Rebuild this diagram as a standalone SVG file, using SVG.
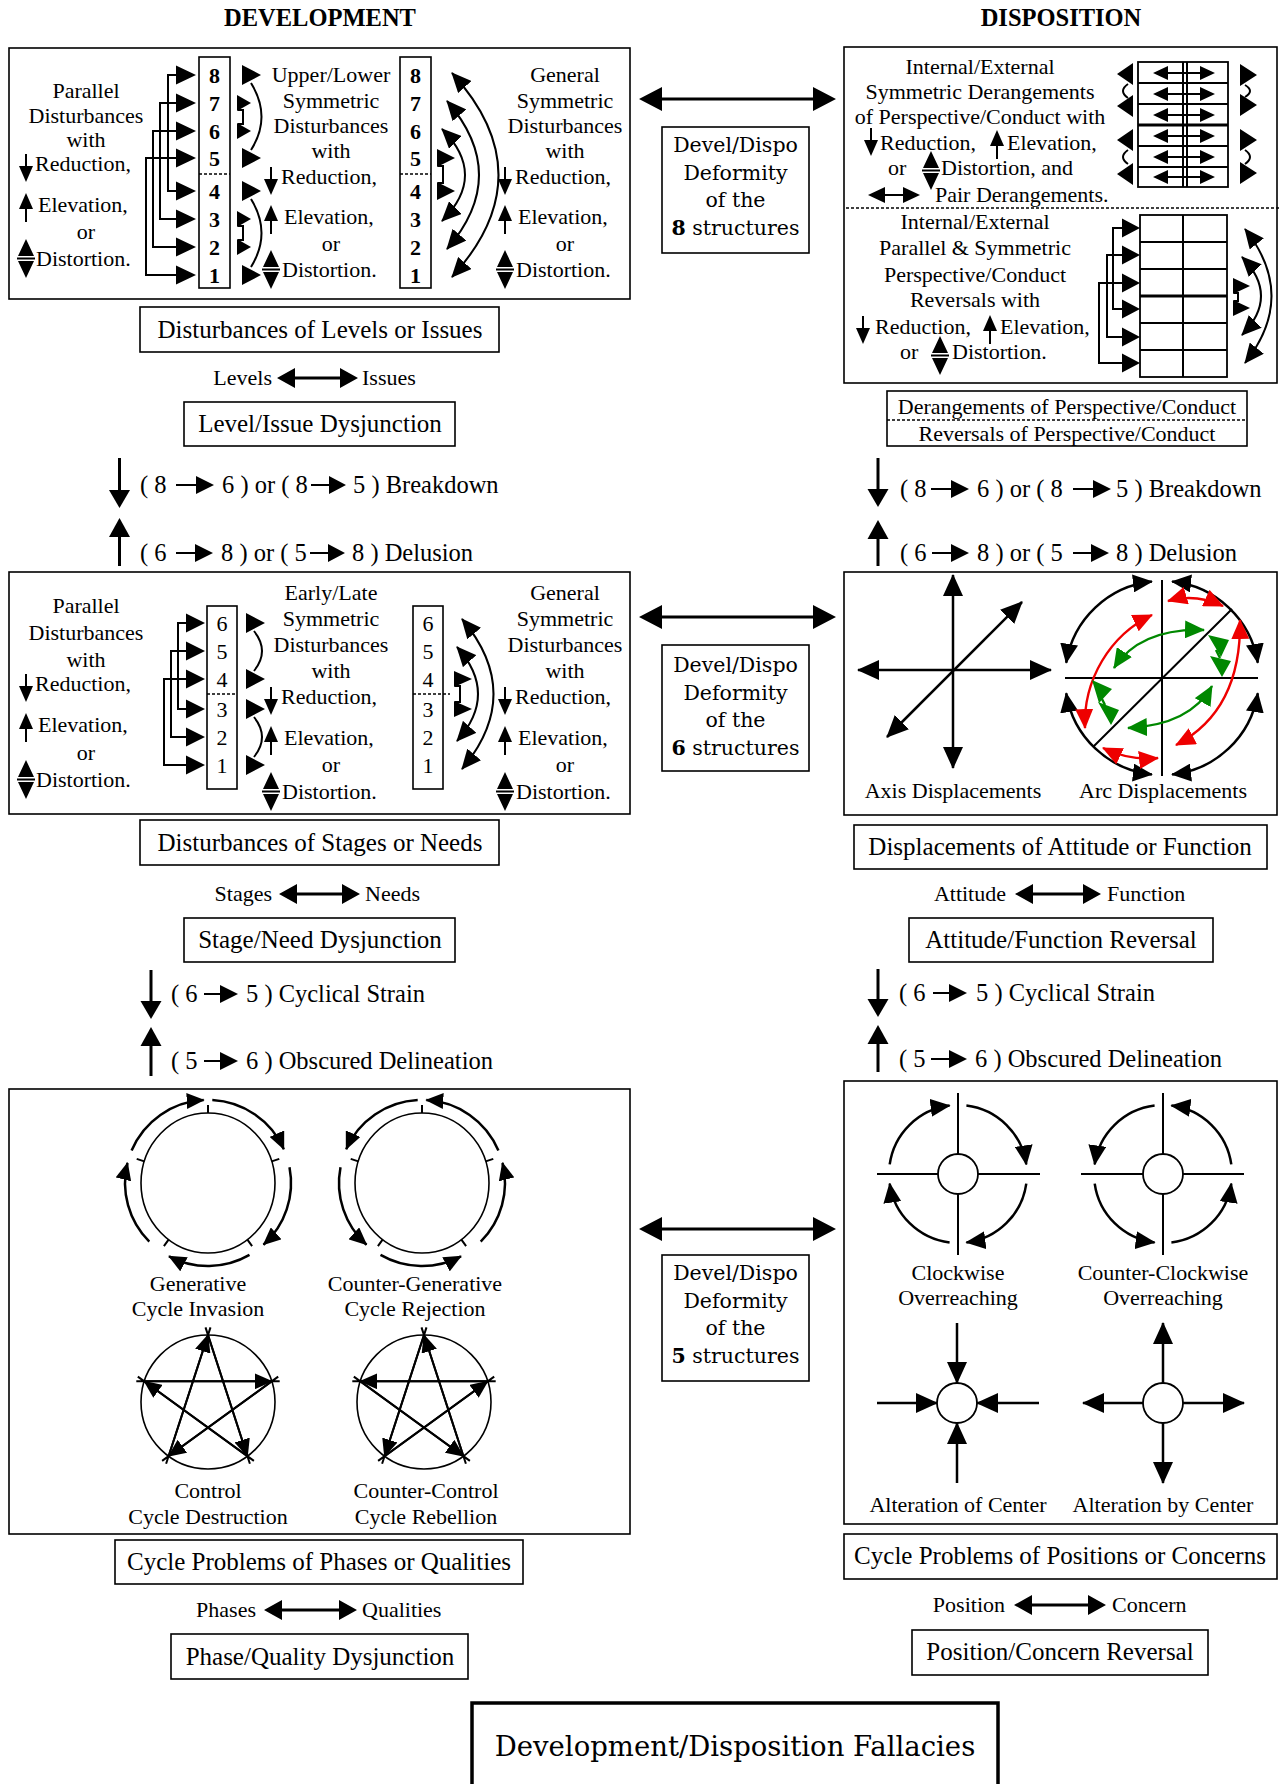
<svg xmlns="http://www.w3.org/2000/svg" width="1281" height="1784" viewBox="0 0 1281 1784">
<style>
text{font-family:"Liberation Serif","Times New Roman",serif;fill:#000;font-size:22px}
.c{text-anchor:middle}.e{text-anchor:end}.b{font-weight:bold}
.L{font-size:25px}.M{font-size:24.5px}.H{font-size:24.5px;font-weight:bold}
.dj{font-family:"DejaVu Serif",serif;font-size:20.5px}
.dt{font-family:"DejaVu Serif",serif;font-size:27.5px}
.bx{fill:#fff;stroke:#000;stroke-width:1.6}
.ln{fill:none;stroke:#000;stroke-width:2}
.lk{fill:none;stroke:#000;stroke-width:2.5}
.th{fill:none;stroke:#000;stroke-width:3}
.dsh{fill:none;stroke:#000;stroke-width:1.3;stroke-dasharray:3 2}
.rd{fill:none;stroke:#e00;stroke-width:2.4}
.gr{fill:none;stroke:#080;stroke-width:2.4}
.wc{fill:#fff;stroke:#000;stroke-width:1.8}
</style>
<defs>
<marker id="mk" viewBox="0 0 20 18" refX="19" refY="9" markerWidth="20" markerHeight="18" markerUnits="userSpaceOnUse" orient="auto-start-reverse"><path d="M0,0L20,9L0,18Z"/></marker>
<marker id="mkL" viewBox="0 0 22 20" refX="21" refY="10" markerWidth="22" markerHeight="20" markerUnits="userSpaceOnUse" orient="auto-start-reverse"><path d="M0,0L22,10L0,20Z"/></marker>
<marker id="mkS" viewBox="0 0 18 16" refX="17" refY="8" markerWidth="18" markerHeight="16" markerUnits="userSpaceOnUse" orient="auto-start-reverse"><path d="M0,0L18,8L0,16Z"/></marker>
<marker id="mkR" viewBox="0 0 20 18" refX="19" refY="9" markerWidth="20" markerHeight="18" markerUnits="userSpaceOnUse" orient="auto-start-reverse"><path d="M0,0L20,9L0,18Z" fill="#e00"/></marker>
<marker id="mkG" viewBox="0 0 20 18" refX="19" refY="9" markerWidth="20" markerHeight="18" markerUnits="userSpaceOnUse" orient="auto-start-reverse"><path d="M0,0L20,9L0,18Z" fill="#080"/></marker>
<g id="dn"><path d="M0,-10V4" stroke="#000" stroke-width="2"/><path d="M-7,2H7L0,18Z"/></g>
<g id="up"><path d="M0,-12L7,4H-7Z"/><path d="M0,3V17" stroke="#000" stroke-width="2"/></g>
<g id="ud"><path d="M0,-20L8,-3H-8ZM0,19L8,2H-8Z"/><path d="M-9,-0.5H9" stroke="#000" stroke-width="2"/></g>
<g id="gencyc">
<ellipse rx="67" ry="70" fill="none" stroke="#000" stroke-width="1.6"/>
<path class="ln" stroke-width="1.4" d="M0,-70V-78M63.7,-21.6L71.3,-24.1M39.4,56.6L44.1,63.1M-39.4,56.6L-44.1,63.1M-63.7,-21.6L-71.3,-24.1"/>
<g class="lk" marker-end="url(#mkS)">
<path d="M-76.4,-32.4A83,83 0 0 1 -4.3,-82.9"/>
<path d="M4.3,-82.9A83,83 0 0 1 75.8,-33.8"/>
<path d="M81.5,-15.8A83,83 0 0 1 55.5,61.7"/>
<path d="M41.5,71.9A83,83 0 0 1 -39,73.3"/>
<path d="M-58.7,58.7A83,83 0 0 1 -80.5,-20.1"/>
</g>
</g>
<g id="pent">
<circle r="67" fill="none" stroke="#000" stroke-width="1.6"/>
<path class="ln" stroke-width="1.8" d="M-2.5,-74.6L41.9,61.8M2.5,-74.6L-41.9,61.8M-71.7,-20.7H71.7M-70.2,-25.4L45.9,58.9M70.2,-25.4L-45.9,58.9"/>
<g class="ln" stroke-width="1.8" marker-end="url(#mkS)">
<path d="M0,-67L39.4,54.2"/>
<path d="M39.4,54.2L-63.7,-20.7"/>
<path d="M-63.7,-20.7L63.7,-20.7"/>
<path d="M63.7,-20.7L-39.4,54.2"/>
<path d="M-39.4,54.2L0,-67"/>
</g>
</g>
<g id="ovr">
<path class="ln" d="M0,-81V81M-81,0H82"/>
<circle class="wc" r="20"/>
<g class="lk" marker-end="url(#mk)">
<path d="M-68.3,-9.6A69,69 0 0 1 -8.4,-68.5"/>
<path d="M8.4,-68.5A69,69 0 0 1 68.3,-9.6"/>
<path d="M68.3,9.6A69,69 0 0 1 8.4,68.5"/>
<path d="M-8.4,68.5A69,69 0 0 1 -68.3,9.6"/>
</g>
</g>
</defs>
<rect width="1281" height="1784" fill="#fff"/>

<g id="headers">
<text class="H c" x="320" y="26">DEVELOPMENT</text>
<text class="H c" x="1061" y="26">DISPOSITION</text>
</g>

<g id="node-levels-panel">
<rect class="bx" x="9" y="48" width="621" height="251"/>
<text class="c" x="86" y="98">Parallel</text>
<text class="c" x="86" y="123">Disturbances</text>
<text class="c" x="86" y="147">with</text>
<use href="#dn" x="26" y="164"/><text x="35" y="171">Reduction,</text>
<use href="#up" x="26" y="205"/><text x="38" y="212">Elevation,</text>
<text class="c" x="86" y="239">or</text>
<use href="#ud" x="26" y="259"/><text x="36" y="266">Distortion.</text>
<rect class="bx" x="199" y="57" width="31" height="231"/>
<g class="b c">
<text x="214.5" y="83">8</text><text x="214.5" y="111">7</text><text x="214.5" y="139">6</text><text x="214.5" y="166">5</text>
<text x="214.5" y="199">4</text><text x="214.5" y="227">3</text><text x="214.5" y="255">2</text><text x="214.5" y="283">1</text>
</g>
<path class="dsh" d="M199,174H230"/>
<path class="ln" d="M176,75H168V191H176M176,103H160V219H176M176,131H153V247H176M176,158H146V275H176"/>
<path d="M176,65.5L196,75L176,84.5ZM176,93.5L196,103L176,112.5ZM176,121.5L196,131L176,140.5ZM176,148.5L196,158L176,167.5ZM176,181.5L196,191L176,200.5ZM176,209.5L196,219L176,228.5ZM176,237.5L196,247L176,256.5ZM176,265.5L196,275L176,284.5Z"/>
<path d="M242,65L261,75L242,85ZM242,148L261,158L242,168ZM237,95L251,103L237,111ZM237,123L251,131L237,139ZM242,181L261,191L242,201ZM242,265L261,275L242,285ZM237,211L251,219L237,227ZM237,239L251,247L237,255Z"/>
<path class="ln" d="M251,83Q272,117 251,150M251,199Q272,233 251,267M238,110H243V124H238M238,226H243V240H238"/>
<text class="c" x="331" y="82">Upper/Lower</text>
<text class="c" x="331" y="108">Symmetric</text>
<text class="c" x="331" y="133">Disturbances</text>
<text class="c" x="331" y="158">with</text>
<use href="#dn" x="271" y="177"/><text x="281" y="184">Reduction,</text>
<use href="#up" x="271" y="217"/><text x="284" y="224">Elevation,</text>
<text class="c" x="331" y="251">or</text>
<use href="#ud" x="271" y="270"/><text x="282" y="277">Distortion.</text>
<rect class="bx" x="400" y="57" width="31" height="231"/>
<g class="b c">
<text x="415.5" y="83">8</text><text x="415.5" y="111">7</text><text x="415.5" y="139">6</text><text x="415.5" y="166">5</text>
<text x="415.5" y="199">4</text><text x="415.5" y="227">3</text><text x="415.5" y="255">2</text><text x="415.5" y="283">1</text>
</g>
<path class="dsh" d="M400,174H431"/>
<g class="ln" stroke-width="2.2" marker-start="url(#mk)" marker-end="url(#mk)">
<path d="M452,73Q545,175 452,277"/>
<path d="M447,101Q511,175 447,249"/>
<path d="M442,129Q488,175 442,221"/>
</g>
<path d="M437,149L455,158L437,167ZM437,182L455,191L437,200Z"/>
<path class="ln" d="M438,166H443V183H438"/>
<text class="c" x="565" y="82">General</text>
<text class="c" x="565" y="108">Symmetric</text>
<text class="c" x="565" y="133">Disturbances</text>
<text class="c" x="565" y="158">with</text>
<use href="#dn" x="505" y="177"/><text x="515" y="184">Reduction,</text>
<use href="#up" x="505" y="217"/><text x="518" y="224">Elevation,</text>
<text class="c" x="565" y="251">or</text>
<use href="#ud" x="505" y="270"/><text x="516" y="277">Distortion.</text>
</g>

<g id="node-levels-label">
<rect class="bx" x="140" y="307" width="359" height="45"/>
<text class="L c" x="320" y="338">Disturbances of Levels or Issues</text>
</g>
<g id="node-levels-issues">
<text class="e" x="272" y="385">Levels</text><text x="362" y="385">Issues</text>
</g>
<g id="node-level-issue-dysjunction">
<rect class="bx" x="184" y="402" width="271" height="44"/>
<text class="L c" x="320" y="432">Level/Issue Dysjunction</text>
</g>
<g id="node-dev-breakdown">
<text class="M" x="140" y="493">( 8</text><text class="M" x="222" y="493">6 ) or ( 8</text><text class="M" x="353" y="493">5 ) Breakdown</text>
<path class="ln" stroke-width="2.5" d="M176,485H198M311,485H331"/>
<path d="M196,476L214,485L196,494ZM329,476L346,485L329,494Z"/>
<path class="th" d="M119.5,458V492"/><path d="M109,490H130L119.5,508Z"/>
</g>
<g id="node-dev-delusion">
<text class="M" x="140" y="561">( 6</text><text class="M" x="221" y="561">8 ) or ( 5</text><text class="M" x="352" y="561">8 ) Delusion</text>
<path class="ln" stroke-width="2.5" d="M176,553H197M310,553H330"/>
<path d="M195,544L213,553L195,562ZM328,544L345,553L328,562Z"/>
<path d="M119.5,518L130,537H109Z"/><path class="th" d="M119.5,535V566"/>
</g>

<g id="node-stages-panel">
<rect class="bx" x="9" y="572" width="621" height="242"/>
<text class="c" x="86" y="613">Parallel</text>
<text class="c" x="86" y="640">Disturbances</text>
<text class="c" x="86" y="667">with</text>
<use href="#dn" x="26" y="684"/><text x="35" y="691">Reduction,</text>
<use href="#up" x="26" y="725"/><text x="38" y="732">Elevation,</text>
<text class="c" x="86" y="760">or</text>
<use href="#ud" x="26" y="780"/><text x="36" y="787">Distortion.</text>
<rect class="bx" x="207" y="606" width="30" height="183"/>
<g class="c">
<text x="222" y="631">6</text><text x="222" y="659">5</text><text x="222" y="687">4</text>
<text x="222" y="717">3</text><text x="222" y="745">2</text><text x="222" y="773">1</text>
</g>
<path class="dsh" d="M207,694H237"/>
<path class="ln" d="M186,623H178V709H186M186,651H171V737H186M186,679H164V765H186"/>
<path d="M186,613.5L205,623L186,632.5ZM186,641.5L205,651L186,660.5ZM186,669.5L205,679L186,688.5ZM186,699.5L205,709L186,718.5ZM186,727.5L205,737L186,746.5ZM186,755.5L205,765L186,774.5Z"/>
<path d="M246,613L265,623L246,633ZM246,669L265,679L246,689ZM246,699L265,709L246,719ZM246,755L265,765L246,775Z"/>
<path class="ln" d="M254,631Q270,651 254,671M254,717Q270,737 254,757"/>
<text class="c" x="331" y="600">Early/Late</text>
<text class="c" x="331" y="626">Symmetric</text>
<text class="c" x="331" y="652">Disturbances</text>
<text class="c" x="331" y="678">with</text>
<use href="#dn" x="271" y="697"/><text x="281" y="704">Reduction,</text>
<use href="#up" x="271" y="738"/><text x="284" y="745">Elevation,</text>
<text class="c" x="331" y="772">or</text>
<use href="#ud" x="271" y="792"/><text x="282" y="799">Distortion.</text>
<rect class="bx" x="413" y="606" width="30" height="183"/>
<g class="c">
<text x="428" y="631">6</text><text x="428" y="659">5</text><text x="428" y="687">4</text>
<text x="428" y="717">3</text><text x="428" y="745">2</text><text x="428" y="773">1</text>
</g>
<path class="dsh" d="M413,694H450"/>
<g class="ln" stroke-width="2.2" marker-start="url(#mk)" marker-end="url(#mk)">
<path d="M462,619Q525,694 462,769"/>
<path d="M457,647Q499,694 457,741"/>
</g>
<path d="M454,671L472,679L454,687ZM454,701L472,709L454,717Z"/>
<path class="ln" d="M455,686H460V702H455"/>
<text class="c" x="565" y="600">General</text>
<text class="c" x="565" y="626">Symmetric</text>
<text class="c" x="565" y="652">Disturbances</text>
<text class="c" x="565" y="678">with</text>
<use href="#dn" x="505" y="697"/><text x="515" y="704">Reduction,</text>
<use href="#up" x="505" y="738"/><text x="518" y="745">Elevation,</text>
<text class="c" x="565" y="772">or</text>
<use href="#ud" x="505" y="792"/><text x="516" y="799">Distortion.</text>
</g>

<g id="node-stages-label">
<rect class="bx" x="140" y="820" width="359" height="45"/>
<text class="L c" x="320" y="851">Disturbances of Stages or Needs</text>
</g>
<g id="node-stages-needs">
<text class="e" x="272" y="901">Stages</text><text x="365" y="901">Needs</text>
</g>
<g id="node-stage-need-dysjunction">
<rect class="bx" x="184" y="918" width="271" height="44"/>
<text class="L c" x="320" y="948">Stage/Need Dysjunction</text>
</g>
<g id="node-dev-strain">
<text class="M" x="171" y="1002">( 6</text><text class="M" x="246" y="1002">5 ) Cyclical Strain</text>
<path class="ln" stroke-width="2.5" d="M204,994H222"/><path d="M220,985L238,994L220,1003Z"/>
<path class="th" d="M151,970V1004"/><path d="M140.5,1001H161.5L151,1019Z"/>
</g>
<g id="node-dev-obscured">
<text class="M" x="171" y="1069">( 5</text><text class="M" x="246" y="1069">6 ) Obscured Delineation</text>
<path class="ln" stroke-width="2.5" d="M204,1061H222"/><path d="M220,1052L238,1061L220,1070Z"/>
<path d="M151,1027L161.5,1046H140.5Z"/><path class="th" d="M151,1044V1076"/>
</g>

<g id="node-cycles-panel">
<rect class="bx" x="9" y="1089" width="621" height="445"/>
<use href="#gencyc" transform="translate(208,1183)"/>
<use href="#gencyc" transform="translate(422,1183) scale(-1,1)"/>
<text class="c" x="198" y="1291">Generative</text>
<text class="c" x="198" y="1316">Cycle Invasion</text>
<text class="c" x="415" y="1291">Counter-Generative</text>
<text class="c" x="415" y="1316">Cycle Rejection</text>
<use href="#pent" transform="translate(208,1402)"/>
<use href="#pent" transform="translate(424,1402) scale(-1,1)"/>
<text class="c" x="208" y="1498">Control</text>
<text class="c" x="208" y="1524">Cycle Destruction</text>
<text class="c" x="426" y="1498">Counter-Control</text>
<text class="c" x="426" y="1524">Cycle Rebellion</text>
</g>
<g id="node-cycles-label">
<rect class="bx" x="115" y="1540" width="408" height="44"/>
<text class="L c" x="319" y="1570">Cycle Problems of Phases or Qualities</text>
</g>
<g id="node-phases-qualities">
<text class="e" x="256" y="1617">Phases</text><text x="362" y="1617">Qualities</text>
</g>
<g id="node-phase-quality-dysjunction">
<rect class="bx" x="171" y="1634" width="297" height="45"/>
<text class="L c" x="320" y="1665">Phase/Quality Dysjunction</text>
</g>

<g id="node-derangements-panel">
<rect class="bx" x="844" y="47" width="433" height="336"/>
<path class="dsh" stroke-width="1.5" d="M846,208H1281"/>
<text class="c" x="980" y="74">Internal/External</text>
<text class="c" x="980" y="99">Symmetric Derangements</text>
<text class="c" x="980" y="124">of Perspective/Conduct with</text>
<use href="#dn" x="871" y="138"/><text x="880" y="150">Reduction,</text>
<use href="#up" x="997" y="142"/><text x="1007" y="150">Elevation,</text>
<text x="888" y="175">or</text><use href="#ud" x="931" y="171"/><text x="941" y="175">Distortion, and</text>
<path class="ln" stroke-width="2.2" d="M882,195H906"/><path d="M868,195L885,187V203ZM920,195L903,187V203Z"/>
<text x="935" y="202">Pair Derangements.</text>
<rect x="1138" y="62" width="90" height="125" fill="none" stroke="#000" stroke-width="1.8"/>
<path class="ln" stroke-width="1.6" d="M1138,83H1228M1138,104H1228M1138,146H1228M1138,167H1228M1183,62V187M1187,62V187"/>
<path class="th" d="M1138,125H1228"/>
<path class="ln" d="M1165,73H1203M1165,94H1203M1165,115H1203M1165,136H1203M1165,157H1203M1165,177H1203"/>
<path d="M1153,73L1168,66V80ZM1215,73L1200,66V80ZM1153,94L1168,87V101ZM1215,94L1200,87V101ZM1153,115L1168,108V122ZM1215,115L1200,108V122ZM1153,136L1168,129V143ZM1215,136L1200,129V143ZM1153,157L1168,150V164ZM1215,157L1200,150V164ZM1153,177L1168,170V184ZM1215,177L1200,170V184Z"/>
<path d="M1117,74L1133,63V85ZM1117,106L1133,95V117ZM1117,140L1133,129V151ZM1117,174L1133,163V185Z"/>
<path d="M1257,75L1240,64V86ZM1257,105L1240,94V116ZM1257,140L1240,129V151ZM1257,173L1240,162V184Z"/>
<path class="ln" d="M1128,84Q1118,91 1128,98M1128,150Q1118,157 1128,164M1245,85Q1255,91 1245,97M1245,150Q1255,157 1245,164"/>
<text class="c" x="975" y="229">Internal/External</text>
<text class="c" x="975" y="255">Parallel &amp; Symmetric</text>
<text class="c" x="975" y="282">Perspective/Conduct</text>
<text class="c" x="975" y="307">Reversals with</text>
<use href="#dn" x="863" y="326"/><text x="875" y="334">Reduction,</text>
<use href="#up" x="990" y="327"/><text x="1000" y="334">Elevation,</text>
<text x="900" y="359">or</text><use href="#ud" x="940" y="356"/><text x="952" y="359">Distortion.</text>
<rect x="1140" y="215" width="87" height="162" fill="none" stroke="#000" stroke-width="1.8"/>
<path class="ln" stroke-width="1.6" d="M1140,242H1227M1140,269H1227M1140,323H1227M1140,350H1227M1183,215V377"/>
<path class="th" d="M1140,296H1227"/>
<path class="ln" d="M1122,228H1113V309H1122M1122,255H1107V337H1122M1122,283H1099V363H1122"/>
<path d="M1122,218.5L1140,228L1122,237.5ZM1122,245.5L1140,255L1122,264.5ZM1122,273.5L1140,283L1122,292.5ZM1122,299.5L1140,309L1122,318.5ZM1122,327.5L1140,337L1122,346.5ZM1122,353.5L1140,363L1122,372.5Z"/>
<g class="ln" stroke-width="2.2" marker-start="url(#mk)" marker-end="url(#mk)">
<path d="M1245,229Q1298,296 1245,363"/>
<path d="M1242,257Q1280,296 1242,335"/>
</g>
<path d="M1233,278L1250,286L1233,294ZM1233,300L1250,308L1233,316Z"/>
<path class="ln" d="M1234,293H1238V301H1234"/>
</g>
<g id="node-derangements-label">
<rect class="bx" x="887" y="391" width="360" height="55"/>
<path class="dsh" d="M887,420H1247"/>
<text class="c" x="1067" y="414">Derangements of Perspective/Conduct</text>
<text class="c" x="1067" y="441">Reversals of Perspective/Conduct</text>
</g>
<g id="node-dis-breakdown">
<text class="M" x="900" y="497">( 8</text><text class="M" x="977" y="497">6 ) or ( 8</text><text class="M" x="1116" y="497">5 ) Breakdown</text>
<path class="ln" stroke-width="2.5" d="M931,489H953M1073,489H1095"/>
<path d="M951,480L969,489L951,498ZM1093,480L1111,489L1093,498Z"/>
<path class="th" d="M878,458V492"/><path d="M867.5,489H888.5L878,507Z"/>
</g>
<g id="node-dis-delusion">
<text class="M" x="900" y="561">( 6</text><text class="M" x="977" y="561">8 ) or ( 5</text><text class="M" x="1116" y="561">8 ) Delusion</text>
<path class="ln" stroke-width="2.5" d="M932,553H953M1073,553H1093"/>
<path d="M951,544L969,553L951,562ZM1091,544L1109,553L1091,562Z"/>
<path d="M878,520L888.5,539H867.5Z"/><path class="th" d="M878,537V566"/>
</g>

<g id="node-displacements-panel">
<rect class="bx" x="844" y="572" width="433" height="243"/>
<g class="lk" marker-end="url(#mkL)">
<path d="M953,670V575"/><path d="M953,670V768"/><path d="M953,670H858"/><path d="M953,670H1051"/>
</g>
<path class="lk" marker-start="url(#mkL)" marker-end="url(#mkL)" d="M887,737L1022,602"/>
<text class="c" x="953" y="798">Axis Displacements</text>
<path class="ln" d="M1065,678H1258M1162,580V776M1093,747L1232,609"/>
<g class="lk" marker-start="url(#mk)" marker-end="url(#mk)">
<path d="M1151.9,581.5A97,97 0 0 0 1066.2,662.8"/>
<path d="M1172.1,581.5A97,97 0 0 1 1257.8,662.8"/>
<path d="M1257.8,693.2A97,97 0 0 1 1172.1,774.5"/>
<path d="M1151.9,774.5A97,97 0 0 1 1066.2,693.2"/>
</g>
<g class="rd" marker-start="url(#mkR)" marker-end="url(#mkR)">
<path d="M1152,615C1110,635 1083,680 1085,728"/>
<path d="M1240,620C1241,680 1220,722 1176,745"/>
<path d="M1168,601Q1195,593 1223,606"/>
<path d="M1103,748Q1130,761 1158,758"/>
</g>
<g class="gr" marker-start="url(#mkG)" marker-end="url(#mkG)">
<path d="M1114,668Q1140,628 1204,630"/>
<path d="M1212,686Q1190,725 1128,728"/>
</g>
<path fill="#080" d="M1208,635L1229,640L1221,657ZM1210,656L1231,661L1222,677ZM1092,680L1112,689L1099,703ZM1098,702L1119,710L1111,725Z"/>
<path class="gr" d="M1216,650L1220,658M1101,697L1105,705"/>
<text class="c" x="1163" y="798">Arc Displacements</text>
</g>
<g id="node-displacements-label">
<rect class="bx" x="854" y="825" width="413" height="44"/>
<text class="L c" x="1060" y="855">Displacements of Attitude or Function</text>
</g>
<g id="node-attitude-function">
<text class="e" x="1006" y="901">Attitude</text><text x="1107" y="901">Function</text>
</g>
<g id="node-attitude-function-reversal">
<rect class="bx" x="909" y="918" width="304" height="44"/>
<text class="L c" x="1061" y="948">Attitude/Function Reversal</text>
</g>
<g id="node-dis-strain">
<text class="M" x="899" y="1001">( 6</text><text class="M" x="976" y="1001">5 ) Cyclical Strain</text>
<path class="ln" stroke-width="2.5" d="M933,993H951"/><path d="M949,984L967,993L949,1002Z"/>
<path class="th" d="M878,969V1002"/><path d="M867.5,999H888.5L878,1017Z"/>
</g>
<g id="node-dis-obscured">
<text class="M" x="899" y="1067">( 5</text><text class="M" x="975" y="1067">6 ) Obscured Delineation</text>
<path class="ln" stroke-width="2.5" d="M931,1059H951"/><path d="M949,1050L967,1059L949,1068Z"/>
<path d="M878,1025L888.5,1044H867.5Z"/><path class="th" d="M878,1042V1072"/>
</g>

<g id="node-overreaching-panel">
<rect class="bx" x="844" y="1081" width="433" height="443"/>
<use href="#ovr" transform="translate(958,1174)"/>
<use href="#ovr" transform="translate(1163,1174) scale(-1,1)"/>
<text class="c" x="958" y="1280">Clockwise</text>
<text class="c" x="958" y="1305">Overreaching</text>
<text class="c" x="1163" y="1280">Counter-Clockwise</text>
<text class="c" x="1163" y="1305">Overreaching</text>
<g class="lk" marker-end="url(#mkL)">
<path d="M957,1323V1383"/><path d="M877,1403H937"/><path d="M1039,1403H977"/><path d="M957,1483V1423"/>
<path d="M1163,1383V1323"/><path d="M1143,1403H1083"/><path d="M1183,1403H1244"/><path d="M1163,1423V1483"/>
</g>
<circle class="wc" cx="957" cy="1403" r="20"/>
<circle class="wc" cx="1163" cy="1403" r="20"/>
<text class="c" x="958" y="1512">Alteration of Center</text>
<text class="c" x="1163" y="1512">Alteration by Center</text>
</g>
<g id="node-positions-label">
<rect class="bx" x="844" y="1534" width="433" height="45"/>
<text class="L c" x="1060" y="1564">Cycle Problems of Positions or Concerns</text>
</g>
<g id="node-position-concern">
<text class="e" x="1005" y="1612">Position</text><text x="1112" y="1612">Concern</text>
</g>
<g id="node-position-concern-reversal">
<rect class="bx" x="912" y="1630" width="296" height="45"/>
<text class="L c" x="1060" y="1660">Position/Concern Reversal</text>
</g>

<g id="node-deformity-8">
<rect class="bx" x="662" y="127" width="147" height="126"/>
<text class="dj c" x="735.5" y="152">Devel/Dispo</text>
<text class="dj c" x="735.5" y="180">Deformity</text>
<text class="dj c" x="735.5" y="207">of the</text>
<text class="dj c" x="735.5" y="235"><tspan font-weight="bold">8</tspan> structures</text>
</g>
<g id="node-deformity-6">
<rect class="bx" x="662" y="645" width="147" height="126"/>
<text class="dj c" x="735.5" y="672">Devel/Dispo</text>
<text class="dj c" x="735.5" y="700">Deformity</text>
<text class="dj c" x="735.5" y="727">of the</text>
<text class="dj c" x="735.5" y="755"><tspan font-weight="bold">6</tspan> structures</text>
</g>
<g id="node-deformity-5">
<rect class="bx" x="662" y="1255" width="147" height="126"/>
<text class="dj c" x="735.5" y="1280">Devel/Dispo</text>
<text class="dj c" x="735.5" y="1308">Deformity</text>
<text class="dj c" x="735.5" y="1335">of the</text>
<text class="dj c" x="735.5" y="1363"><tspan font-weight="bold">5</tspan> structures</text>
</g>
<g id="node-fallacies">
<rect x="472" y="1703" width="526" height="100" fill="#fff" stroke="#000" stroke-width="3.5"/>
<text class="dt c" x="735" y="1756">Development/Disposition Fallacies</text>
</g>

<g id="connectors">
<path class="th" stroke-width="3.5" d="M660,99H815M660,617H815M660,1229H815"/>
<path d="M639,99L662,87V111ZM836,99L813,87V111ZM639,617L662,605V629ZM836,617L813,605V629ZM639,1229L662,1217V1241ZM836,1229L813,1217V1241Z"/>
<path class="th" d="M293,378H342M297,894H344M282,1610H341M1033,894H1085M1032,1605H1090"/>
<path d="M277,378L295,368V388ZM358,378L340,368V388ZM279,894L297,884V904ZM360,894L342,884V904ZM264,1610L282,1600V1620ZM357,1610L339,1600V1620ZM1015,894L1033,884V904ZM1101,894L1083,884V904ZM1014,1605L1032,1595V1615ZM1106,1605L1088,1595V1615Z"/>
</g>
</svg>
